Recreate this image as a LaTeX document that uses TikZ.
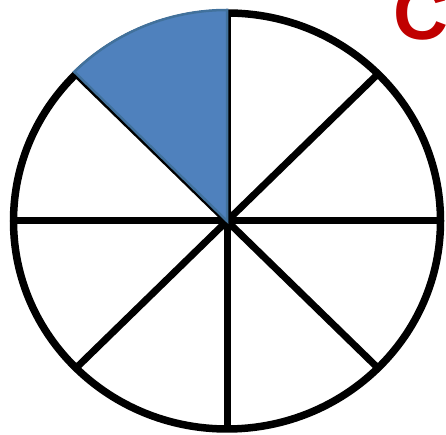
\documentclass[tikz,border=0pt]{standalone}
\usepackage{fontspec}
\setmainfont{Liberation Sans}
\definecolor{sliceblue}{HTML}{4F81BD}
\definecolor{sliceedge}{HTML}{41719C}
\definecolor{letterred}{HTML}{C00000}
\begin{document}
\begin{tikzpicture}[x=1pt,y=1pt]
\useasboundingbox (0,0) rectangle (446,435);
\coordinate (o) at (227,214);
\draw[line width=7.5pt] (o) ellipse [x radius=213.5pt, y radius=208pt];
\foreach \a in {0,45,...,315}
{
\draw[line width=7pt] (o) -- ++(\a:213.5 and 208);
}
\filldraw[fill=sliceblue,draw=sliceedge,line width=2.5pt] (o) -- ++(90:216 and 211) arc[start angle=90,end angle=135,x radius=216pt,y radius=211pt] -- cycle;
\node[anchor=base west,inner sep=0pt,text=letterred,font=\fontsize{76}{76}\selectfont\bfseries] (letter) at (393,395) {C};
\end{tikzpicture}
\end{document}
